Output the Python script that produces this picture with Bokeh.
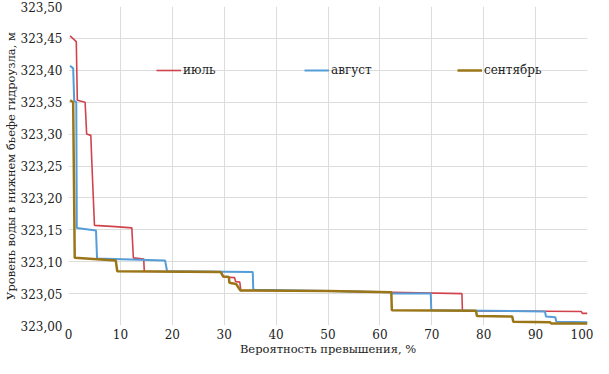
from bokeh.plotting import figure
from bokeh.models import FixedTicker, CustomJSTickFormatter, Range1d, Legend, LegendItem
from bokeh.embed import file_html
from bokeh.resources import INLINE

# --- data ---
july_x = [0.3, 1.5, 1.7, 3.2, 3.5, 4.3, 4.5, 5.0, 9.0, 12.2, 12.5, 14.5, 14.6, 29.5, 29.8, 32.0, 32.2, 33.0, 33.2, 50.0, 62.0, 75.8, 75.9, 98.8, 99.0, 100.0]
july_y = [323.454, 323.445, 323.353, 323.350, 323.300, 323.298, 323.255, 323.157, 323.155, 323.153, 323.106, 323.104, 323.085, 323.084, 323.076, 323.075, 323.069, 323.068, 323.055, 323.054, 323.052, 323.050, 323.023, 323.022, 323.019, 323.019]

aug_x = [0.3, 0.9, 1.1, 1.5, 1.6, 5.3, 5.5, 18.6, 19.0, 35.5, 35.6, 50.0, 62.2, 62.4, 69.8, 69.9, 91.8, 92.0, 93.8, 94.0, 100.0]
aug_y = [323.407, 323.403, 323.352, 323.350, 323.153, 323.149, 323.105, 323.102, 323.085, 323.084, 323.056, 323.054, 323.052, 323.050, 323.050, 323.024, 323.022, 323.014, 323.013, 323.006, 323.005]

sep_x = [0.3, 0.9, 1.2, 9.1, 9.4, 29.3, 29.8, 30.9, 31.0, 32.3, 33.1, 50.0, 62.2, 62.3, 78.5, 78.7, 85.5, 85.7, 92.8, 93.0, 100.0]
sep_y = [323.353, 323.350, 323.106, 323.102, 323.085, 323.084, 323.077, 323.076, 323.067, 323.065, 323.055, 323.054, 323.052, 323.024, 323.023, 323.015, 323.014, 323.006, 323.005, 323.003, 323.003]

series_names = ["июль", "август", "сентябрь"]
x_ticks = [0, 10, 20, 30, 40, 50, 60, 70, 80, 90, 100]
y_ticks = [323.00, 323.05, 323.10, 323.15, 323.20, 323.25, 323.30, 323.35, 323.40, 323.45, 323.50]

FONT = "DejaVu Serif"
colors = ["#d0434d", "#559dd8", "#9a7618"]
widths = [1.6, 2.0, 2.5]

p = figure(width=593, height=358, output_backend="svg", toolbar_location=None,
           x_range=Range1d(0, 100), y_range=Range1d(323.0, 323.5),
           min_border_top=6, min_border_right=6, min_border_left=4, min_border_bottom=0)
p.outline_line_color = None
p.background_fill_color = "white"

r1 = p.line(july_x, july_y, line_color=colors[0], line_width=widths[0])
r2 = p.line(aug_x, aug_y, line_color=colors[1], line_width=widths[1])
r3 = p.line(sep_x, sep_y, line_color=colors[2], line_width=widths[2])

p.xaxis.ticker = FixedTicker(ticks=x_ticks)
p.yaxis.ticker = FixedTicker(ticks=y_ticks)
p.yaxis.formatter = CustomJSTickFormatter(code="return tick.toFixed(2).replace('.', ',');")

for ax in (p.xaxis[0], p.yaxis[0]):
    ax.axis_line_color = None
    ax.major_tick_line_color = None
    ax.minor_tick_line_color = None
    ax.major_tick_out = 0
    ax.major_tick_in = 0
    ax.major_label_text_font = FONT
    ax.major_label_text_font_size = "12px"
    ax.major_label_text_color = "#222222"
    ax.axis_label_text_font = FONT
    ax.axis_label_text_font_size = "11.5px"
    ax.axis_label_text_font_style = "normal"
    ax.axis_label_text_color = "#222222"

p.xaxis.axis_label = "Вероятность превышения, %"
p.yaxis.axis_label = "Уровень воды в нижнем бьефе гидроузла, м"
p.xaxis.major_label_standoff = 3
p.xaxis.axis_label_standoff = 0
p.yaxis.major_label_standoff = 6
p.yaxis.axis_label_standoff = 0

p.xgrid.grid_line_color = "#dcdcdc"
p.ygrid.grid_line_color = "#dcdcdc"

legend_pos = [(88, 248), (236, 248), (389, 248)]
for name, r, loc in zip(series_names, [r1, r2, r3], legend_pos):
    lg = Legend(items=[LegendItem(label=name, renderers=[r])], location=loc,
                label_text_font=FONT, label_text_font_size="12px", label_text_color="#222222",
                glyph_width=25, glyph_height=14, label_height=14, label_standoff=2,
                padding=0, margin=0, border_line_color=None, background_fill_alpha=0)
    p.add_layout(lg, "center")

open("out.html", "w").write(file_html(p, INLINE))
